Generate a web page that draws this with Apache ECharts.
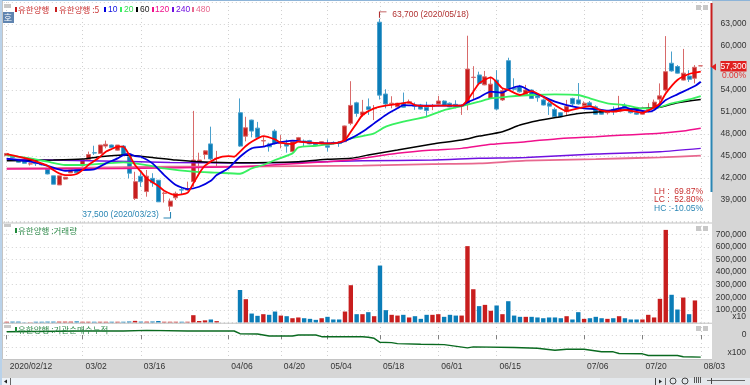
<!DOCTYPE html>
<html><head><meta charset="utf-8">
<script src="https://cdn.jsdelivr.net/npm/echarts@6/dist/echarts.min.js"></script>
<style>html,body{margin:0;padding:0;background:#fff}#c{width:750px;height:385px}</style>
</head><body><div id="c"></div>
<script>
const categories=['2020/02/12','02/13','02/14','02/17','02/18','02/19','02/20','02/21','02/24','02/25','02/26','02/27','02/28',
'03/02','03/03','03/04','03/05','03/06','03/09','03/10','03/11','03/12','03/13','03/16','03/17','03/18','03/19','03/20','03/23','03/24','03/25','03/26','03/27','03/30','03/31',
'04/01','04/02','04/03','04/06','04/07','04/08','04/09','04/10','04/13','04/14','04/16','04/17','04/20','04/21','04/22','04/23','04/24','04/27','04/28','04/29',
'05/04','05/06','05/07','05/08','05/11','05/12','05/13','05/14','05/15','05/18','05/19','05/20','05/21','05/22','05/25','05/26','05/27','05/28','05/29',
'06/01','06/02','06/03','06/04','06/05','06/08','06/09','06/10','06/11','06/12','06/15','06/16','06/17','06/18','06/19','06/22','06/23','06/24','06/25','06/26','06/29','06/30',
'07/01','07/02','07/03','07/06','07/07','07/08','07/09','07/10','07/13','07/14','07/15','07/16','07/17','07/20','07/21','07/22','07/23','07/24','07/27','07/28','07/29','07/30','07/31','08/03',''];
const tickDates=['2020/02/12','03/02','03/16','04/06','04/20','05/04','05/18','06/01','06/15','07/06','07/20','08/03'];
// open, close, low, high
const candles=[[45050,45350,45050,45350],[44950,44800,44700,45000],[44450,44150,44100,44500],[44250,44000,43950,44300],[43900,43950,43700,44100],[44000,43950,43650,44200],[43950,43800,43700,44000],[43200,42550,42500,43250],[42300,41150,41150,42300],[41050,42300,41050,42300],
[41850,42100,41800,42150],[42700,43100,42700,43100],[43100,42700,42650,43150],[43650,44450,43600,44450],[44550,45200,44500,45600],[45450,45400,45150,46400],[45350,46500,45300,46500],[46350,46600,46050,47100],[46500,46150,46100,46550],[45800,46500,45750,46500],
[46350,45150,45100,46500],[44900,42650,41950,45150],[39200,41500,39000,42850],[42250,41500,40800,43000],[40150,42250,39450,43100],[41950,41350,40800,42650],[41700,38750,38750,41700],[39900,39950,38650,40150],[38150,38850,37500,39200],[39300,39900,39000,40150],
[40400,40350,39700,40800],[40350,40450,40200,41500],[41500,44450,40800,51150],[44100,44450,42650,45450],[45200,45700,44550,45800],[46650,44600,44450,49000],[44650,44700,43550,45700],'-','-','-',
[50900,46350,46250,52850],[47700,48850,47000,50350],[49900,48400,47550,49950],[48800,47550,47400,49650],[47050,47100,46250,47650],[46650,46250,45600,46800],[48400,46700,46600,48650],[46700,46950,46050,47850],[46650,46350,45450,47250],[45600,46950,45500,46950],
[47100,47500,47000,47600],[47050,46850,46250,47250],[47100,46650,46600,47200],[46800,46500,46300,46900],[46700,46950,46600,47000],[46400,46200,45600,47250],[46850,46800,46600,47000],[46850,46700,46250,47000],[46950,49100,46900,49150],[49450,51900,49200,55200],
[52250,50800,50350,52400],[50600,51000,50350,52650],[51700,51350,50600,52850],[51450,51500,49900,51950],[63250,53300,52700,63700],[53450,52100,51500,54100],[52150,52200,51500,53150],[51700,52200,51650,52250],[52200,51650,51600,53650],[52200,52400,52150,52700],
[51950,51800,51300,52300],[51950,51400,51350,52100],[51650,51200,50450,52400],[51800,51900,51250,52100],[52100,52500,52050,53200],[52500,51900,51850,52600],[52200,51700,51650,52300],[52050,51800,51500,52600],[51800,51900,50600,52050],[52200,56850,51250,61400],
[55700,55750,52650,57250],[56050,54900,54700,56500],[54700,55800,54650,56600],[52850,54800,52800,55800],[55350,51400,51250,56700],[52650,53900,52500,54150],[58000,54200,53900,58400],[54200,54100,53900,55600],[54450,53750,53650,54700],[53400,54000,53300,54700],
[54000,52850,52800,54100],[53200,52950,52400,53550],[52650,51950,51900,52850],[52200,51800,50600,52400],[51350,50350,50300,51600],[50900,50350,50300,51000],[51050,51800,50500,52650],[52850,52100,51700,52950],[52650,52100,52000,54950],[51850,52200,51800,52450],
[52250,51800,51750,52500],[51700,50700,50650,51900],[51250,50700,50650,51350],[50900,51050,50650,51200],[51350,51200,50600,51750],[51200,51500,51100,53200],[51900,51500,51400,52200],[51250,50900,50800,51400],[50900,50700,50600,51000],[50700,50900,50650,51000],
[51350,51500,51000,52200],[51650,52350,51600,52700],[52750,53200,52200,54900],[54000,56500,53800,61350],[57650,56600,56500,59250],[57200,56300,56250,57400],[55350,56300,55300,59600],[55900,55450,55100,56700],[55600,57100,54900,57400],[57300,57300,57300,57300]];
const volumes=[6000,7000,7000,2000,2000,6000,6000,7000,7000,7000,7000,7000,9000,6000,6000,6000,6000,6000,6000,6000,6000,8000,13000,7000,7000,8000,12000,6000,6000,6000,6000,6000,58000,12000,17000,24000,11000,0,0,0,
258000,185000,71000,53000,66000,61000,87000,55000,50000,34000,40000,34000,29000,21000,34000,45000,24000,24000,87000,296000,66000,66000,82000,50000,452000,98000,61000,55000,61000,40000,
50000,29000,61000,61000,66000,45000,61000,55000,55000,606000,264000,130000,140000,93000,135000,66000,169000,55000,45000,45000,45000,40000,34000,40000,40000,34000,50000,24000,82000,29000,
34000,45000,34000,29000,34000,50000,34000,24000,24000,24000,61000,40000,188000,735000,220000,103000,198000,66000,175000,0];
const ma5Idx=[0,2,4,6,7,8,9,10,11,12,13,14,15,16,17,18,19,20,21,22,23,24,26,27,29,31,32,33,34,36,38,39,40,41,42,44,46,47,49,50,52,54,56,57,58,59,60,61,63,65,67,69,70,72,74,76,78,79,80,81,83,85,86,88,90,92,94,96,98,100,102,104,106,109,111,112,113,115,117,119];
const ma5=[45270,44900,44540,43990,43680,43080,42630,42400,42400,42540,43080,43770,44310,44900,45590,45950,46270,46270,45130,43770,42860,41950,40900,40270,39670,39990,41270,42630,43680,44680,44990,44900,45590,46360,46950,47720,47270,46810,46630,46950,46810,46720,46720,46860,47180,48310,49450,50590,51500,51860,52090,52320,51950,51810,51860,51860,51860,52630,53770,54910,55730,54230,54000,53320,53860,53090,51950,51130,51500,51810,51180,51040,51270,50910,51630,52180,53540,55360,56180,56500];
const ma10Idx=[0,4,6,8,10,12,15,17,19,20,21,22,23,25,27,29,31,33,35,36,38,40,42,44,46,49,52,55,57,59,61,63,65,67,68,71,74,78,79,81,83,85,86,88,90,92,94,96,99,101,103,106,107,110,111,113,115,118,119];
const ma10=[44630,44220,43900,43400,42990,43080,43180,43990,44680,45130,45270,44990,44900,43990,42400,41040,40490,40810,41630,42400,43310,44900,46040,46270,46720,47090,46810,46720,46810,47400,48310,49450,50590,51500,51950,51860,51860,51860,52320,53000,53770,53630,54090,54540,53770,53090,52410,51950,51500,51410,51180,51630,51410,51040,51270,52630,53410,54540,55130];
const ma20Idx=[0,4,7,10,13,17,20,22,25,27,32,36,40,42,44,46,49,50,53,57,59,61,63,65,68,72,75,78,81,83,86,90,94,98,100,103,106,109,111,114,117,119];
const ma20=[45130,44680,44220,43770,43770,43990,44130,43990,43630,43310,42860,42720,42580,43310,43770,44450,45360,46180,46400,46810,47400,47720,48090,49000,49680,50360,51270,51810,52410,52860,53090,53320,53410,53320,52860,52180,51950,51500,51500,52180,52720,53180];
const ma60Idx=[0,8,13,16,20,22,25,29,33,40,50,55,59,62,67,73,78,81,85,88,91,95,98,102,105,109,112,115,119];
const ma60=[44360,44450,44580,44900,45130,45040,44810,44450,44220,44080,44220,44540,44680,45130,45810,46630,47180,47720,48310,49220,49810,50360,50810,51040,51180,51500,51630,52270,52720];
const ma120Idx=[0,20,40,50,55,59,67,73,78,83,89,95,101,106,112,116,119];
const ma120=[43220,43310,43540,43990,44220,44450,45360,45810,46040,46590,46950,47400,47630,47860,48090,48400,48770];
const ma240Idx=[0,14,28,40,50,61,73,81,89,101,112,119];
const ma240=[44540,44360,44130,44040,44130,44360,44450,44680,44810,45270,45590,46040];
const ma480Idx=[0,14,28,40,50,61,73,81,89,101,112,119];
const ma480=[43310,43400,43540,43540,43630,43680,43900,43990,44360,44580,44810,45040];
const instIdx=[0,13,20,24,31,39,40,43,45,49,50,53,54,61,62,63,64,66,67,71,75,79,80,87,91,94,96,99,102,104,105,109,110,115,116,119];
const inst=[330,400,400,460,400,400,130,100,-100,-100,0,0,-170,-170,-230,-330,-730,-760,-860,-920,-960,-1290,-1190,-1250,-1320,-1520,-1420,-1420,-1680,-1680,-1850,-1880,-2050,-2050,-2180,-2210];
const priceTicks={min:36000,max:66000,step:3000};
const volTicks={min:0,max:800000,step:100000};
const instTicks={min:-2400,max:1200,step:1200};

const RED='#c81e1e',BLUE='#0b7db8',LAT='"Liberation Sans",sans-serif',KR='"Noto Sans CJK KR",sans-serif',FS=8.5;
const isTick=i=>tickDates.includes(categories[i]);
const grids=[{left:3.8,width:705.7,top:2,height:220},{left:3.8,width:705.7,top:221.7,height:100.8},{left:3.8,width:705.7,top:323,height:36}];
const dotted={show:true,lineStyle:{color:'#d0d0d0',type:[1,3],width:1}};
const xAxis=[0,1,2].map(g=>({type:'category',gridIndex:g,data:categories,boundaryGap:true,
  axisLine:{show:false},
  axisTick:{show:g===2,alignWithLabel:true,interval:i=>isTick(i),length:4,lineStyle:{color:'#808080'}},
  axisLabel:{show:g===2,interval:i=>isTick(i),align:'left',margin:3,fontFamily:LAT,fontSize:FS,color:'#333',showMinLabel:true,showMaxLabel:true,hideOverlap:false,padding:[0,0,0,3]},
  splitLine:{...dotted,alignWithLabel:true,interval:i=>isTick(i)}}));
const yLabel=fmt=>({show:true,align:'right',margin:37,fontFamily:LAT,fontSize:FS,color:'#333',formatter:fmt,showMinLabel:true,showMaxLabel:true});
const comma=v=>String(v).replace(/\B(?=(\d{3})+$)/g,',');
const yAxis=[
 {type:'value',gridIndex:0,position:'right',scale:true,min:priceTicks.min,max:priceTicks.max,interval:priceTicks.step,axisLine:{show:false},axisTick:{show:false},splitLine:dotted,
  axisLabel:yLabel(v=>(v===priceTicks.min||v===priceTicks.max||v===57000)?'':comma(v))},
 {type:'value',gridIndex:1,position:'right',min:volTicks.min,max:volTicks.max,interval:volTicks.step,axisLine:{show:false},axisTick:{show:false},splitLine:dotted,
  axisLabel:yLabel(v=>(v===volTicks.min||v===volTicks.max)?'':comma(v))},
 {type:'value',gridIndex:2,position:'right',min:instTicks.min,max:instTicks.max,interval:instTicks.step,axisLine:{show:false},axisTick:{show:false},splitLine:dotted,
  axisLabel:yLabel(v=>v===0?'0':'')}
];
const maLine=(name,idx,vals,color,w)=>({name,type:'line',xAxisIndex:0,yAxisIndex:0,data:idx.map((x,i)=>[x,vals[i]]),showSymbol:false,smooth:0.2,lineStyle:{color,width:w||1.5},z:5,silent:true,animation:false});
const volData=volumes.map((v,i)=>{const c=candles[i];return {value:v,itemStyle:{color:(c==='-'||c[1]>=c[0])?RED:BLUE}}});
const series=[
 {name:'유한양행',type:'candlestick',xAxisIndex:0,yAxisIndex:0,data:candles,barWidth:4.5,z:3,animation:false,
  itemStyle:{color:RED,color0:BLUE,borderColor:'#d86a6a',borderColor0:'#4aa0cc',borderWidth:1},
  markPoint:{silent:true,animation:false,data:[
   {coord:[64,63700],symbol:'path://M0,10L0,0L10,0',symbolSize:[7,6],symbolOffset:[3,-4],itemStyle:{color:'none',borderColor:'#b03030',borderWidth:1},
    label:{show:true,position:'right',distance:3,formatter:'63,700 (2020/05/18)',fontFamily:LAT,fontSize:FS,color:'#b03030'}},
   {coord:[28,37500],symbol:'path://M0,10L10,10L10,0',symbolSize:[7,6],symbolOffset:[-3,4],itemStyle:{color:'none',borderColor:'#2a86b4',borderWidth:1},
    label:{show:true,position:'left',distance:2,formatter:'37,500 (2020/03/23)',fontFamily:LAT,fontSize:FS,color:'#2a86b4'}}
  ]}},
 maLine('480',ma480Idx,ma480,'#e8688f',1.8),
 maLine('240',ma240Idx,ma240,'#7010e0'),
 maLine('120',ma120Idx,ma120,'#f0108c'),
 maLine('60',ma60Idx,ma60,'#000000'),
 maLine('20',ma20Idx,ma20,'#38f060',1.8),
 maLine('10',ma10Idx,ma10,'#0000e0',1.8),
 maLine('5',ma5Idx,ma5,'#ff0000',1.8),
 {name:'거래량',type:'bar',xAxisIndex:1,yAxisIndex:1,data:volData,barWidth:4.4,animation:false},
 {name:'기관순매수누적',type:'line',xAxisIndex:2,yAxisIndex:2,data:instIdx.map((x,i)=>[x,inst[i]]),showSymbol:false,lineStyle:{color:'#0a6a20',width:1.4},animation:false}
];
const rect=(x,y,w,h,fill,z)=>({type:'rect',shape:{x,y,width:w,height:h},style:{fill},z:z===undefined?-1:z,silent:true});
const txt=(x,y,text,fill,fs,ff,align)=>({type:'text',x,y,z:20,silent:true,style:{text,fill,fontSize:fs,fontFamily:ff||KR,textAlign:align||'left',textVerticalAlign:'middle'}});
const mini=(y)=>[rect(696,y-2,5,5,'#c8c8c8',20),rect(703,y-2,5,5,'#c8c8c8',20)];
const legendRow=[[15,'#c81e1e'],[55,'#c81e1e'],[104,'#0000e0'],[120,'#38f060'],[136,'#000'],[152,'#f0108c'],[172,'#7010e0'],[192,'#e8688f']];
const graphic=[
 rect(712,0,38,359,'#d6d6d6'),rect(0,359,712,19,'#d6d6d6'),rect(712,359,38,19,'#d6d6d6'),
 rect(0,378,750,7,'#eef3f8'),
 rect(0,0,750,1,'#8db4d8',30),rect(0,0,2,385,'#b9d2ea',30),rect(2,1,1,358,'#c4c4c4',30),
 rect(3,222.5,709,1,'#c4c4c4',4),rect(3,322.8,709,1,'#c4c4c4',4),rect(3,359,709,1,'#c4c4c4',4),
 rect(710.5,3,2,64,'#c81e1e',6),rect(710.5,67,2,125,'#2a86b4',6),
 {type:'polygon',shape:{points:[[711,67],[716,63.5],[716,70.5]]},style:{fill:'#e02020'},z:8,silent:true},
 rect(720.5,61,26,10.5,'#e02020',8),
 txt(733.5,66.5,'57,300','#fff',FS,LAT,'center'),
 txt(746,76,'0.00%','#e03030',FS,LAT,'right'),
 txt(654,191.5,'LH :','#c83030',FS,LAT),txt(703,191.5,'69.87%','#c83030',FS,LAT,'right'),
 txt(654,200,'LC :','#c83030',FS,LAT),txt(703,200,'52.80%','#c83030',FS,LAT,'right'),
 txt(654,208.5,'HC :','#2a86b4',FS,LAT),txt(703,208.5,'-10.05%','#2a86b4',FS,LAT,'right'),
 ...mini(7),...mini(228),...mini(328),
 rect(4,4,7,4,'#c8c8c8',20),rect(4,224,7,3,'#c8c8c8',20),rect(4,325,7,3,'#c8c8c8',20),
 rect(2,12,12,11,'#5f84b0',20),txt(8,17.5,'호','#fff',9,KR,'center'),
 ...legendRow.map(a=>rect(a[0],7,2,5,a[1],20)),
 txt(18,9.5,'유한양행','#c83030',8.5),txt(59,9.5,'유한양행 :5','#c83030',8.5),
 txt(108,9.5,'10','#1010e0',FS,LAT),txt(124,9.5,'20','#30e050',FS,LAT),txt(140,9.5,'60','#222',FS,LAT),
 txt(155,9.5,'120','#f0108c',FS,LAT),txt(176,9.5,'240','#7010e0',FS,LAT),txt(196,9.5,'480','#e8688f',FS,LAT),
 rect(15,228,2,5,'#1f8a3a',20),txt(18,230.5,'유한양행 :거래량','#2f8a4a',8.5),
 rect(15,327,2,5,'#1f8a3a',20),txt(18,329.5,'유한양행 :기관순매수누적','#2f8a4a',8.5),
 txt(746,317,'x10','#333',FS,LAT,'right'),
 txt(746,353,'x100','#333',FS,LAT,'right'),
 {type:'polygon',shape:{points:[[4,381.5],[7,379.5],[7,383.5]]},style:{fill:'#222'},z:20,silent:true},
 rect(10,378,1,7,'#666',20),
 rect(600,378,150,7,'#e4e8ec',0),
 rect(655,378,1,7,'#444',20),
 {type:'polygon',shape:{points:[[659,379.5],[662,381.5],[659,383.5]]},style:{fill:'#222'},z:20,silent:true},
 rect(665,378,1,7,'#666',20),
 {type:'circle',shape:{cx:673,cy:381,r:3},style:{fill:'none',stroke:'#444'},z:20,silent:true},
 {type:'circle',shape:{cx:685,cy:381,r:3},style:{fill:'none',stroke:'#444'},z:20,silent:true},
 rect(694,377,1,6,'#555',20),rect(696,377,1,6,'#555',20),rect(698,377,1,6,'#555',20),rect(700,377,1,6,'#555',20),
 rect(707,380,38,1,'#666',20),rect(711,378,1,6,'#444',20)
];
const chart=echarts.init(document.getElementById('c'),null,{renderer:'canvas'});
chart.setOption({animation:false,backgroundColor:'#fff',grid:grids,xAxis,yAxis,series,graphic,tooltip:{show:false}});
</script></body></html>
